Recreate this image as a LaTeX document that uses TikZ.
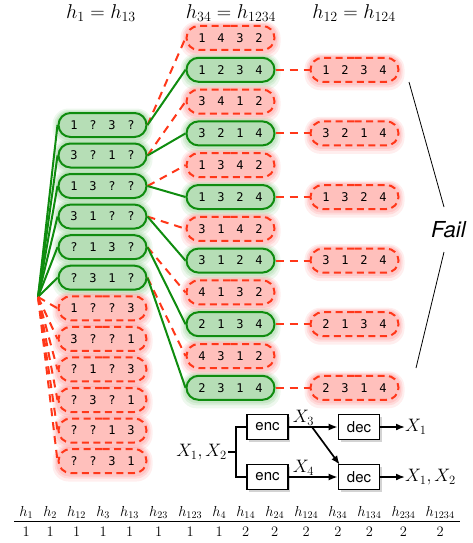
\RequirePackage{fix-cm}
\documentclass[tikz,border=0pt]{standalone}
\usepackage{fontspec}
\usepackage{graphicx}
\newfontfamily\helv{TeX Gyre Heros}
\newfontfamily\dmono{DejaVu Sans Mono}
\usetikzlibrary{shapes.misc,arrows.meta,backgrounds,shadows,calc}
\definecolor{gline}{RGB}{15,140,15}
\definecolor{gfill}{RGB}{182,222,182}
\definecolor{gglow}{RGB}{140,205,140}
\definecolor{rline}{RGB}{255,55,25}
\definecolor{rfill}{RGB}{255,192,188}
\definecolor{rglow}{RGB}{255,140,140}
\newcommand\pq[4]{\makebox[19pt]{#1}\makebox[19pt]{#2}\makebox[19pt]{#3}\makebox[19pt]{#4}}
\newcommand\glowat[2]{%
  \fill[#1, opacity=.15, rounded corners=16pt] ($(#2.west |- #2.north)+(-5,-3.5)$) rectangle ($(#2.east |- #2.south)+(5,7.5)$);
  \fill[#1, opacity=.2, rounded corners=14pt] ($(#2.west |- #2.north)+(-3,-2)$) rectangle ($(#2.east |- #2.south)+(3,4.5)$);
  \fill[#1, opacity=.25, rounded corners=13pt] ($(#2.west |- #2.north)+(-1.5,-1)$) rectangle ($(#2.east |- #2.south)+(1.5,2.5)$);}
\begin{document}
\begin{tikzpicture}[x=1pt,y=-1pt,
  perm/.style={rounded rectangle, minimum width=88pt, minimum height=24pt, inner sep=0pt,
    line width=2pt, font=\fontsize{12}{12}\dmono},
  gnode/.style={perm, draw=gline, fill=gfill},
  rnode/.style={perm, draw=rline, fill=rfill, dash pattern=on 7pt off 4.5pt},
  gcon/.style={draw=gline, line width=2pt},
  rcon/.style={draw=rline, line width=2pt, dash pattern=on 8pt off 6pt},
  hdr/.style={font=\fontsize{20}{20}\selectfont},
  mlab/.style={font=\fontsize{18}{18}\selectfont, inner sep=1pt},
  box/.style={draw, line width=1.6pt, fill=white, minimum width=41pt, minimum height=25pt,
    inner sep=0pt, font=\fontsize{15}{15}\helv,
    drop shadow={shadow xshift=2pt, shadow yshift=-2pt, opacity=.35}},
  wire/.style={line width=1.7pt},
  arr/.style={line width=1.7pt, -{Latex[length=9pt,width=7pt]}},
  failline/.style={line width=0.8pt}
]
\useasboundingbox (0,0) rectangle (472,543);

% headers
\node[hdr] (hA) at (101,13) {$h_1=h_{13}$};
\node[hdr] (hB) at (231,13) {$h_{34}=h_{1234}$};
\node[hdr] (hC) at (354,13) {$h_{12}=h_{124}$};

% root
\coordinate (root) at (38,297);

% left column
\node[gnode] (L1)  at (102.5,125)   {\pq{1}{?}{3}{?}};
\node[gnode] (L2)  at (102.5,155.5) {\pq{3}{?}{1}{?}};
\node[gnode] (L3)  at (102.5,186)   {\pq{1}{3}{?}{?}};
\node[gnode] (L4)  at (102.5,216.6) {\pq{3}{1}{?}{?}};
\node[gnode] (L5)  at (102.5,247.2) {\pq{?}{1}{3}{?}};
\node[gnode] (L6)  at (102.5,277.7) {\pq{?}{3}{1}{?}};
\node[rnode] (L7)  at (102.5,308.3) {\pq{1}{?}{?}{3}};
\node[rnode] (L8)  at (102.5,338.9) {\pq{3}{?}{?}{1}};
\node[rnode] (L9)  at (102.5,369.4) {\pq{?}{1}{?}{3}};
\node[rnode] (L10) at (102.5,400)   {\pq{?}{3}{?}{1}};
\node[rnode] (L11) at (102.5,430.5) {\pq{?}{?}{1}{3}};
\node[rnode] (L12) at (102.5,461)   {\pq{?}{?}{3}{1}};

% middle column
\node[rnode] (M1)  at (230.5,38)    {\pq{1}{4}{3}{2}};
\node[gnode] (M2)  at (230.5,69.8)  {\pq{1}{2}{3}{4}};
\node[rnode] (M3)  at (230.5,101.6) {\pq{3}{4}{1}{2}};
\node[gnode] (M4)  at (230.5,133.4) {\pq{3}{2}{1}{4}};
\node[rnode] (M5)  at (230.5,165.2) {\pq{1}{3}{4}{2}};
\node[gnode] (M6)  at (230.5,197)   {\pq{1}{3}{2}{4}};
\node[rnode] (M7)  at (230.5,228.8) {\pq{3}{1}{4}{2}};
\node[gnode] (M8)  at (230.5,260.6) {\pq{3}{1}{2}{4}};
\node[rnode] (M9)  at (230.5,292.4) {\pq{4}{1}{3}{2}};
\node[gnode] (M10) at (230.5,324.2) {\pq{2}{1}{3}{4}};
\node[rnode] (M11) at (230.5,356)   {\pq{4}{3}{1}{2}};
\node[gnode] (M12) at (230.5,387.8) {\pq{2}{3}{1}{4}};

% right column
\node[rnode] (R1) at (354.5,69.8)  {\pq{1}{2}{3}{4}};
\node[rnode] (R2) at (354.5,133.4) {\pq{3}{2}{1}{4}};
\node[rnode] (R3) at (354.5,197)   {\pq{1}{3}{2}{4}};
\node[rnode] (R4) at (354.5,260.6) {\pq{3}{1}{2}{4}};
\node[rnode] (R5) at (354.5,324.2) {\pq{2}{1}{3}{4}};
\node[rnode] (R6) at (354.5,387.8) {\pq{2}{3}{1}{4}};

% glows
\begin{scope}[on background layer]
  \foreach \n in {L1,L2,L3,L4,L5,L6,M2,M4,M6,M8,M10,M12} {\glowat{gglow}{\n}}
  \foreach \n in {L7,L8,L9,L10,L11,L12,M1,M3,M5,M7,M9,M11,R1,R2,R3,R4,R5,R6} {\glowat{rglow}{\n}}
\end{scope}

% root connectors
\foreach \n in {L1,L2,L3,L4,L5,L6} {\draw[gcon] (root) -- (\n.west);}
\foreach \n in {L7,L8,L9,L10,L11,L12} {\draw[rcon] (root) -- (\n.west);}

% left to middle
\draw[rcon] (L1.east) -- (M1.west);  \draw[gcon] (L1.east) -- (M2.west);
\draw[rcon] (L2.east) -- (M3.west);  \draw[gcon] (L2.east) -- (M4.west);
\draw[rcon] (L3.east) -- (M5.west);  \draw[gcon] (L3.east) -- (M6.west);
\draw[rcon] (L4.east) -- (M7.west);  \draw[gcon] (L4.east) -- (M8.west);
\draw[rcon] (L5.east) -- (M9.west);  \draw[gcon] (L5.east) -- (M10.west);
\draw[rcon] (L6.east) -- (M11.west); \draw[gcon] (L6.east) -- (M12.west);

% middle to right
\draw[rcon] (M2.east) -- (R1.west);
\draw[rcon] (M4.east) -- (R2.west);
\draw[rcon] (M6.east) -- (R3.west);
\draw[rcon] (M8.east) -- (R4.west);
\draw[rcon] (M10.east) -- (R5.west);
\draw[rcon] (M12.east) -- (R6.west);

% Fail
\node[anchor=west, inner sep=0pt, font=\fontsize{22}{22}\helv\itshape] (fail) at (431,230) {Fail};
\coordinate (fa1) at (409,82);  \coordinate (fa2) at (444,207);
\coordinate (fb1) at (444,252); \coordinate (fb2) at (416,368);
\draw[failline] (fa1) -- (fa2);
\draw[failline] (fb1) -- (fb2);

% encoder / decoder
\node[box] (encT) at (267.5,427) {enc};
\node[box] (encB) at (267.5,477) {enc};
\node[box] (decT) at (359,427) {dec};
\node[box] (decB) at (359,477) {dec};
\node[mlab, anchor=east] (in) at (228,452) {$X_1,X_2$};
\coordinate (J) at (236,452);
\coordinate (S) at (312,427);
\node[mlab, anchor=west, inner sep=0pt] (o1) at (405,427) {$X_1$};
\node[mlab, anchor=west, inner sep=0pt] (o2) at (405,477) {$X_1,X_2$};
\draw[wire] (in.east) -- (J);
\draw[wire] (encT.west) -| (J) |- (encB.west);
\draw[arr] (encT.east) -- node[mlab, above, pos=0.3] (x3) {$X_3$} (decT.west);
\draw[arr] (encB.east) -- node[mlab, above, pos=0.3] (x4) {$X_4$} (decB.west);
\draw[arr] (S) -- ($(decB.west |- decB.north)+(2,1)$);
\draw[arr] (decT.east) -- (o1.west);
\draw[arr] (decB.east) -- (o2.west);

% table
\node[inner sep=0pt, anchor=north] (tbl) at (237,506.2) {\fontsize{14.5}{14}\selectfont\setlength{\tabcolsep}{5.1pt}%
\begin{tabular}{*{15}{c}}
$h_1$ & $h_2$ & $h_{12}$ & $h_3$ & $h_{13}$ & $h_{23}$ & $h_{123}$ & $h_4$ & $h_{14}$ & $h_{24}$ & $h_{124}$ & $h_{34}$ & $h_{134}$ & $h_{234}$ & $h_{1234}$\\
\hline
\rule{0pt}{15.5pt}1 & 1 & 1 & 1 & 1 & 1 & 1 & 1 & 2 & 2 & 2 & 2 & 2 & 2 & 2
\end{tabular}};
\end{tikzpicture}
\end{document}
